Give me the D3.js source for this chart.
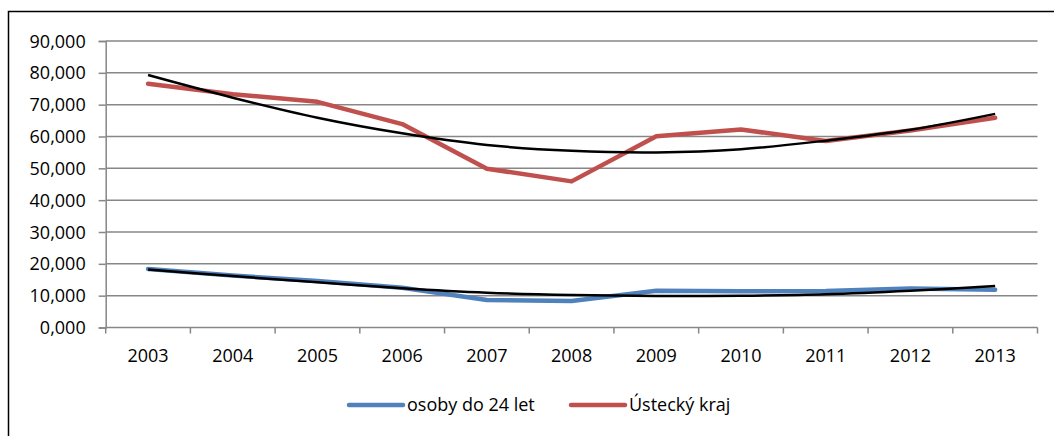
<!DOCTYPE html>
<html>
<head>
<meta charset="utf-8">
<script src="https://cdn.jsdelivr.net/npm/d3@7"></script>
<style>
  html, body { margin: 0; padding: 0; background: #fff; }
  svg { display: block; }
  text { font-family: "Open Sans", sans-serif; fill: #000; }
</style>
</head>
<body>
<svg id="chart" width="1054" height="436"></svg>
<script>
const years = ["2003","2004","2005","2006","2007","2008","2009","2010","2011","2012","2013"];
const youthValues = [18400, 16300, 14600, 12500, 8650, 8350, 11550, 11400, 11450, 12250, 11850];
const regionValues = [76600, 73300, 70900, 63900, 49900, 45900, 60100, 62200, 58600, 61900, 65900];
const youthTrend = [18200, 16150, 14200, 12350, 10950, 10200, 9900, 10000, 10450, 11550, 13050];
const regionTrend = [79300, 72200, 65900, 61000, 57350, 55500, 55000, 56000, 58700, 62100, 67100];
const yTicks = [0, 10000, 20000, 30000, 40000, 50000, 60000, 70000, 80000, 90000];
const yTickLabels = ["0,000","10,000","20,000","30,000","40,000","50,000","60,000","70,000","80,000","90,000"];
const seriesNames = ["osoby do 24 let", "Ústecký kraj"];

const svg = d3.select("#chart");
const W = 1054, H = 436;

// outer chart frame (top and left visible)
svg.append("rect")
  .attr("x", 8.5).attr("y", 11.5)
  .attr("width", 1100).attr("height", 500)
  .attr("fill", "none").attr("stroke", "#000").attr("stroke-width", 1.5);

const x = d3.scaleBand().domain(years).range([105.7, 1037.5]).padding(0);
const y = d3.scaleLinear().domain([0, 90000]).range([327.5, 41]);
const cx = d => x(d) + x.bandwidth() / 2;

const gridColor = "#878787";

// gridlines
svg.append("g").selectAll("line").data(yTicks.filter(t => t > 0)).join("line")
  .attr("x1", 105.7).attr("x2", 1037.5)
  .attr("y1", d => y(d)).attr("y2", d => y(d))
  .attr("stroke", gridColor).attr("stroke-width", 1.5);

// y axis
const yAxis = d3.axisLeft(y).tickValues(yTicks)
  .tickFormat((d, i) => yTickLabels[i]).tickSize(7).tickPadding(13);
const gy = svg.append("g").attr("transform", "translate(105.7,0)").call(yAxis);
gy.select(".domain").attr("stroke", gridColor).attr("stroke-width", 1.5);
gy.selectAll(".tick line").attr("stroke", gridColor).attr("stroke-width", 1.5);
gy.selectAll(".tick text").style("font-family", "'Open Sans', sans-serif")
  .style("font-size", "18px").attr("fill", "#000").attr("dy", "0.34em");

// x axis with ticks at band boundaries
const gx = svg.append("g").attr("transform", `translate(0,${y(0)})`);
gx.append("line").attr("x1", 105.7).attr("x2", 1037.5).attr("y1", 0).attr("y2", 0)
  .attr("stroke", gridColor).attr("stroke-width", 1.5);
const boundaries = years.map(d => x(d)).concat([x(years[years.length - 1]) + x.bandwidth()]);
gx.selectAll("line.tk").data(boundaries).join("line").attr("class", "tk")
  .attr("x1", d => d).attr("x2", d => d).attr("y1", 0).attr("y2", 6)
  .attr("stroke", gridColor).attr("stroke-width", 1.5);
gx.selectAll("text").data(years).join("text")
  .attr("x", d => cx(d)).attr("y", 28)
  .attr("text-anchor", "middle").attr("dy", "0.34em")
  .style("font-size", "18px").text(d => d);

const line = d3.line().x((d, i) => cx(years[i])).y(d => y(d));
const smooth = d3.line().x((d, i) => cx(years[i])).y(d => y(d)).curve(d3.curveCatmullRom.alpha(0.5));

const blue = "#4F81BD", red = "#C0504D";

svg.append("path").datum(youthValues).attr("d", line)
  .attr("fill", "none").attr("stroke", blue).attr("stroke-width", 4.5)
  .attr("stroke-linejoin", "round").attr("stroke-linecap", "round");
svg.append("path").datum(regionValues).attr("d", line)
  .attr("fill", "none").attr("stroke", red).attr("stroke-width", 4.5)
  .attr("stroke-linejoin", "round").attr("stroke-linecap", "round");
svg.append("path").datum(youthTrend).attr("d", smooth)
  .attr("fill", "none").attr("stroke", "#000").attr("stroke-width", 2.5);
svg.append("path").datum(regionTrend).attr("d", smooth)
  .attr("fill", "none").attr("stroke", "#000").attr("stroke-width", 2.5);

// legend
const legendItems = [
  { name: seriesNames[0], color: blue, x0: 349 },
  { name: seriesNames[1], color: red, x0: 571 }
];
const lg = svg.append("g");
legendItems.forEach(it => {
  lg.append("line").attr("x1", it.x0).attr("x2", it.x0 + 54)
    .attr("y1", 405).attr("y2", 405)
    .attr("stroke", it.color).attr("stroke-width", 4.5).attr("stroke-linecap", "round");
  lg.append("text").attr("x", it.x0 + 58).attr("y", 405).attr("dy", "0.34em")
    .style("font-size", "18px").text(it.name);
});
</script>
</body>
</html>
